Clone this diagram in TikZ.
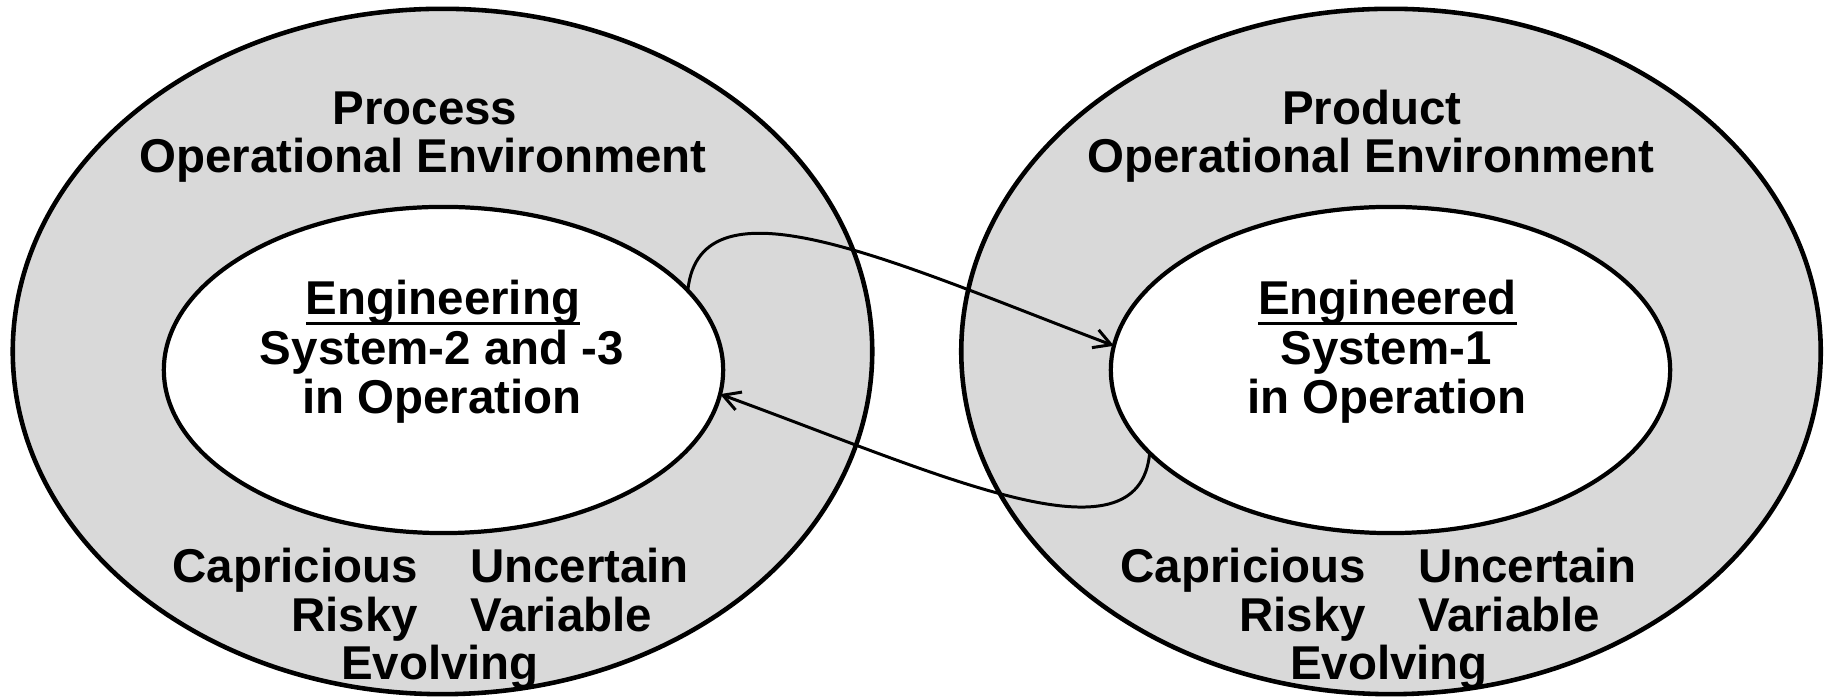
\documentclass[tikz,border=0pt]{standalone}
\usepackage{fontspec}
\setmainfont{Liberation Sans}
\usetikzlibrary{shapes.geometric,arrows.meta}
\definecolor{envgray}{HTML}{D9D9D9}
\newcommand{\ulword}[1]{\setbox0\hbox{#1}\rlap{\rule[-2.98pt]{\wd0}{0.85pt}}\box0}
\begin{document}
\begin{tikzpicture}[x=0.01cm,y=-0.01cm,
  outerell/.style={ellipse, draw=black, fill=envgray, line width=1.3pt, inner sep=0pt, outer sep=0pt, minimum width=8.59cm, minimum height=6.85cm},
  innerell/.style={ellipse, draw=black, fill=white, line width=1.2pt, inner sep=0pt, outer sep=0pt, minimum width=5.59cm, minimum height=3.26cm},
  lbl/.style={inner sep=0pt, outer sep=0pt, font=\fontsize{13.5}{13.8}\selectfont\bfseries},
  arr/.style={line width=0.85pt, -{Straight Barb[length=4.8pt,width=5.4pt]}}]
\useasboundingbox (0,0) rectangle (1829,698);
% outer environments
\node[outerell] (outL) at (442.5,351.5) {};
\node[outerell] (outR) at (1391,351.5) {};
% inner systems
\node[innerell] (inL) at (443.5,370) {};
\node[innerell] (inR) at (1390.5,370) {};
% left texts
\node[lbl, anchor=base] (tL1) at (425,125) {Process};
\node[lbl, anchor=base] (tL2) at (423,173) {Operational Environment};
\node[lbl, anchor=base] (iL1) at (443,315) {\ulword{Engineering}};
\node[lbl, anchor=base] (iL2) at (442,365) {System-2 and -3};
\node[lbl, anchor=base] (iL3) at (442,414) {in Operation};
\node[lbl, anchor=base east] (bL1) at (418,583) {Capricious};
\node[lbl, anchor=base west] (bL2) at (470,583) {Uncertain};
\node[lbl, anchor=base east] (bL3) at (418,632) {Risky};
\node[lbl, anchor=base west] (bL4) at (470,632) {Variable};
\node[lbl, anchor=base] (bL5) at (440,680) {Evolving};
% right texts
\node[lbl, anchor=base] (tR1) at (1372,125) {Product};
\node[lbl, anchor=base] (tR2) at (1371,173) {Operational Environment};
\node[lbl, anchor=base] (iR1) at (1387.5,315) {\ulword{Engineered}};
\node[lbl, anchor=base] (iR2) at (1386,365) {System-1};
\node[lbl, anchor=base] (iR3) at (1387,414) {in Operation};
\node[lbl, anchor=base east] (bR1) at (1366,583) {Capricious};
\node[lbl, anchor=base west] (bR2) at (1418,583) {Uncertain};
\node[lbl, anchor=base east] (bR3) at (1366,632) {Risky};
\node[lbl, anchor=base west] (bR4) at (1418,632) {Variable};
\node[lbl, anchor=base] (bR5) at (1389,680) {Evolving};
% connectors
\draw[arr] (inL.18.8) .. controls (700,170) and (900,265) .. (inR.175);
\draw[arr] (inR.199) .. controls (1139,569) and (939,474) .. (inL.355.5);
\end{tikzpicture}
\end{document}
